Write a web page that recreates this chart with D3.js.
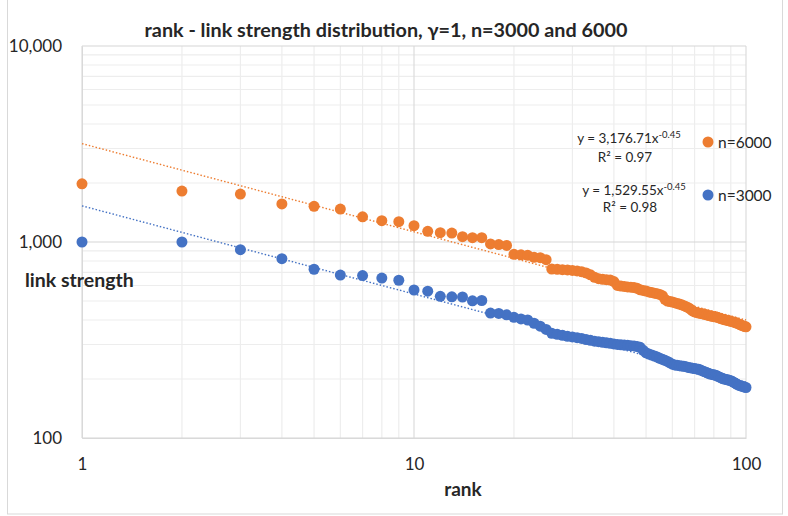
<!DOCTYPE html>
<html>
<head>
<meta charset="utf-8">
<script src="https://cdn.jsdelivr.net/npm/d3@7"></script>
<style>
  body { margin: 0; background: #fff; }
  text { font-family: Lato, "Open Sans", sans-serif; fill: #262626; }
</style>
</head>
<body>
<div class="chart"></div>
<script>
var svgWidth = 788;
var svgHeight = 516;

// ranks 1..100 on the x axis
var ranks = d3.range(1, 101);

// n=6000 (orange)
var n6000 = [
  1980, 1820, 1757, 1563, 1521, 1472, 1345, 1285, 1270, 1211,
  1133, 1116, 1110, 1064, 1052, 1052, 977, 970, 960, 865,
  860, 855, 835, 832, 812, 728, 726, 722, 720, 716,
  712, 706, 695, 680, 660, 650, 645, 642, 640, 628,
  600, 596, 593, 590, 588, 586, 580, 570, 566, 562,
  556, 552, 548, 545, 540, 532, 510, 500, 497, 494,
  490, 486, 482, 478, 473, 468, 462, 455, 445, 440,
  437, 434, 432, 430, 428, 425, 422, 420, 418, 416,
  415, 413, 410, 407, 404, 402, 400, 398, 396, 394,
  392, 390, 388, 385, 382, 379, 376, 373, 371, 369
];

// n=3000 (blue)
var n3000 = [
  1000, 1000, 914, 822, 726, 678, 674, 655, 638, 569,
  561, 528, 525, 524, 501, 503, 434, 432, 425, 413,
  405, 400, 385, 372, 358, 342, 338, 334, 330, 328,
  325, 322, 318, 315, 312, 310, 308, 306, 304, 302,
  300, 299, 298, 297, 296, 295, 293, 290, 280, 272,
  268, 265, 262, 259, 255, 252, 249, 246, 242, 238,
  236, 235, 234, 233, 232, 231, 229, 228, 227, 226,
  225, 224, 222, 220, 218, 216, 214, 212, 211, 210,
  209, 207, 205, 203, 201, 200, 199, 198, 197, 196,
  194, 192, 190, 188, 186, 185, 184, 183, 182, 181
];

// power trendlines shown in the chart: y = a * x^b
var trendA = [3176.71, 1529.55];
var trendB = [-0.45, -0.45];

var seriesNames = ["n=6000", "n=3000"];
var seriesColors = ["#ED7D31", "#4472C4"];
var eqLabels = [["y = 3,176.71x", "-0.45", "R² = 0.97"], ["y = 1,529.55x", "-0.45", "R² = 0.98"]];

var xTicks = [1, 10, 100];
var yTicks = [100, 1000, 10000];

var plot = { left: 82, right: 746, top: 46, bottom: 438 };

var svg = d3.select(".chart")
  .append("svg")
  .attr("width", svgWidth)
  .attr("height", svgHeight);

// chart frame
svg.append("rect")
  .attr("x", 7.5).attr("y", -2)
  .attr("width", 775).attr("height", 516)
  .attr("fill", "none")
  .attr("stroke", "#D9D9D9");

var x = d3.scaleLog().domain([1, 100]).range([plot.left, plot.right]);
var y = d3.scaleLog().domain([100, 10000]).range([plot.bottom, plot.top]);

// minor gridlines
var xMinor = [2, 3, 4, 5, 6, 7, 8, 9, 20, 30, 40, 50, 60, 70, 80, 90];
var yMinor = [200, 300, 400, 500, 600, 700, 800, 900, 2000, 3000, 4000, 5000, 6000, 7000, 8000, 9000];

var grid = svg.append("g");
grid.selectAll(".xminor").data(xMinor).enter().append("line")
  .attr("x1", d => x(d)).attr("x2", d => x(d))
  .attr("y1", plot.top).attr("y2", plot.bottom)
  .attr("stroke", "#EDEDED").attr("stroke-width", 1.2);
grid.selectAll(".yminor").data(yMinor).enter().append("line")
  .attr("x1", plot.left).attr("x2", plot.right)
  .attr("y1", d => y(d)).attr("y2", d => y(d))
  .attr("stroke", "#EDEDED").attr("stroke-width", 1.2);
grid.selectAll(".xmajor").data(xTicks).enter().append("line")
  .attr("x1", d => x(d)).attr("x2", d => x(d))
  .attr("y1", plot.top).attr("y2", plot.bottom)
  .attr("stroke", "#DCDCDC").attr("stroke-width", 1.2);
grid.selectAll(".ymajor").data(yTicks).enter().append("line")
  .attr("x1", plot.left).attr("x2", plot.right)
  .attr("y1", d => y(d)).attr("y2", d => y(d))
  .attr("stroke", "#D6D6D6").attr("stroke-width", 1.2);

// axes (labels only, Excel style)
var bottomAxis = d3.axisBottom(x).tickValues(xTicks).tickFormat(d3.format(",")).tickSize(0).tickPadding(20);
var leftAxis = d3.axisLeft(y).tickValues(yTicks).tickFormat(d3.format(",")).tickSize(0).tickPadding(20);

svg.append("g")
  .attr("transform", `translate(0, ${plot.bottom})`)
  .call(bottomAxis)
  .call(g => g.select(".domain").attr("stroke", "#D9D9D9"))
  .selectAll("text").attr("font-size", 17).attr("fill", "#262626")
  .attr("font-family", "Lato, sans-serif");

svg.append("g")
  .attr("transform", `translate(${plot.left}, 0)`)
  .call(leftAxis)
  .call(g => g.select(".domain").attr("stroke", "#D9D9D9"))
  .selectAll("text").attr("font-size", 17).attr("fill", "#262626")
  .attr("font-family", "Lato, sans-serif");

// trendlines, straight on log-log
var lineGen = d3.line().x(d => x(d[0])).y(d => y(d[1]));
trendA.forEach(function(a, i) {
  var pts = [1, 100].map(r => [r, a * Math.pow(r, trendB[i])]);
  svg.append("path")
    .attr("d", lineGen(pts))
    .attr("fill", "none")
    .attr("stroke", seriesColors[i])
    .attr("stroke-width", 1.4)
    .attr("stroke-dasharray", "1.5,2");
});

// points
[n6000, n3000].forEach(function(vals, i) {
  svg.append("g").selectAll("circle")
    .data(vals)
    .enter()
    .append("circle")
    .attr("cx", (d, j) => x(ranks[j]))
    .attr("cy", d => y(d))
    .attr("r", 5.5)
    .attr("fill", seriesColors[i]);
});

// trendline equations
var eqPos = [[629, 143, 162], [634, 195, 212]];
eqLabels.forEach(function(lab, i) {
  var t = svg.append("text")
    .attr("x", eqPos[i][0]).attr("y", eqPos[i][1])
    .attr("text-anchor", "middle")
    .attr("font-size", 13.5);
  t.append("tspan").text(lab[0]);
  t.append("tspan").attr("dy", -5.5).attr("font-size", 9.5).text(lab[1]);
  svg.append("text")
    .attr("x", eqPos[i][0] - 4).attr("y", eqPos[i][2])
    .attr("text-anchor", "middle")
    .attr("font-size", 13.5)
    .text(lab[2]);
});

// legend
var legY = [142, 195];
seriesNames.forEach(function(name, i) {
  svg.append("circle")
    .attr("cx", 708).attr("cy", legY[i]).attr("r", 5.5)
    .attr("fill", seriesColors[i]);
  svg.append("text")
    .attr("x", 718).attr("y", legY[i] + 5.5)
    .attr("font-size", 15.5)
    .text(name);
});

// title and axis titles
svg.append("text")
  .attr("x", 386).attr("y", 37)
  .attr("text-anchor", "middle")
  .attr("font-size", 19.8)
  .attr("font-weight", "bold")
  .text("rank - link strength distribution, γ=1, n=3000 and 6000");

svg.append("text")
  .attr("x", 463).attr("y", 496)
  .attr("text-anchor", "middle")
  .attr("font-size", 19)
  .attr("font-weight", "bold")
  .text("rank");

svg.append("text")
  .attr("x", 25).attr("y", 287)
  .attr("font-size", 19.5)
  .attr("font-weight", "bold")
  .text("link strength");
</script>
</body>
</html>
